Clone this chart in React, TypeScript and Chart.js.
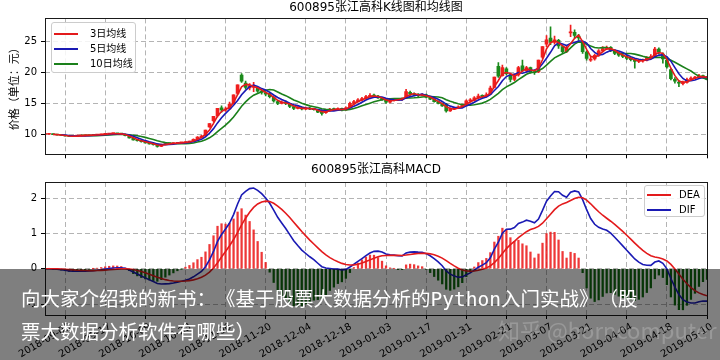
import React, { useEffect, useRef } from "react";
import { Chart, registerables } from "chart.js";

Chart.register(...registerables);

const FONT = '"DejaVu Sans", "Noto Sans CJK SC", sans-serif';

const topTitle = "600895张江高科K线图和均线图";
const bottomTitle = "600895张江高科MACD";
const priceAxisTitle = "价格（单位：元）";
const bannerLine1 = "向大家介绍我的新书：《基于股票大数据分析的Python入门实战》（股";
const bannerLine2 = "票大数据分析软件有哪些）";
const watermark = "知乎 @horncomputer";

// x tick labels, one every 10 trading days
const tickLabels = [
  "2018-09-03", "2018-09-17", "2018-10-09", "2018-10-23", "2018-11-06",
  "2018-11-20", "2018-12-04", "2018-12-18", "2019-01-03", "2019-01-17",
  "2019-01-31", "2019-02-21", "2019-03-07", "2019-03-21", "2019-04-04",
  "2019-04-18", "2019-05-10",
];
const tickStep = 10;

const opens = [
  9.98, 10.00, 10.02, 9.95, 9.88, 9.80, 9.72, 9.66, 9.70, 9.76,
  9.78, 9.80, 9.84, 9.88, 9.92, 9.98, 10.05, 10.10, 10.12, 10.08,
  10.00, 9.75, 9.40, 9.12, 8.95, 8.80, 8.60, 8.45, 8.28, 8.05,
  8.35, 8.52, 8.48, 8.55, 8.62, 8.66, 8.74, 8.88, 9.20, 9.55,
  9.80, 11.20, 12.20, 13.00, 14.30, 13.90, 14.10, 15.00, 16.60, 19.60,
  18.30, 17.50, 17.60, 17.50, 17.00, 16.70, 16.60, 16.00, 15.30, 15.00,
  15.20, 14.90, 14.50, 14.20, 14.30, 14.10, 14.25, 14.10, 14.00, 13.90,
  13.50, 13.90, 14.10, 14.00, 14.20, 13.95, 14.40, 15.00, 15.30, 15.60,
  15.80, 16.10, 16.30, 16.20, 15.90, 15.60, 15.20, 15.50, 15.70, 15.60,
  15.90, 16.80, 16.50, 16.40, 16.30, 16.40, 16.00, 15.70, 15.30, 15.00,
  14.90, 13.80, 14.10, 14.30, 14.40, 14.90, 15.40, 15.50, 15.90, 16.30,
  16.10, 16.50, 17.60, 21.00, 19.50, 20.60, 19.60, 18.90, 19.60, 21.10,
  20.30, 20.80, 20.10, 20.10, 22.50, 24.60, 25.60, 24.90, 25.20, 24.20,
  23.40, 26.40, 26.50, 25.90, 24.80, 23.30, 22.00, 22.20, 22.80, 23.50,
  23.90, 24.10, 23.60, 23.10, 22.80, 22.60, 22.30, 22.10, 21.80, 21.90,
  22.00, 22.40, 22.60, 23.80, 23.00, 22.00, 20.50, 18.90, 18.40, 18.20,
  18.40, 18.90, 19.10, 19.20, 19.50, 19.30,
];
const closes = [
  10.00, 10.02, 9.95, 9.88, 9.80, 9.72, 9.66, 9.70, 9.75, 9.78,
  9.80, 9.84, 9.88, 9.92, 9.98, 10.05, 10.10, 10.12, 10.08, 10.02,
  9.78, 9.40, 9.10, 8.95, 8.80, 8.62, 8.45, 8.30, 8.05, 8.35,
  8.50, 8.48, 8.55, 8.62, 8.66, 8.74, 8.86, 9.20, 9.55, 9.70,
  10.67, 11.74, 12.91, 14.20, 13.95, 14.10, 14.90, 16.39, 18.03, 18.60,
  17.60, 17.90, 17.70, 17.00, 16.80, 16.50, 16.10, 15.40, 15.00, 15.20,
  15.00, 14.50, 14.20, 14.30, 14.10, 14.25, 14.10, 14.00, 13.60, 13.40,
  13.90, 14.10, 14.00, 14.15, 13.90, 14.30, 15.00, 15.30, 15.60, 15.80,
  16.10, 16.30, 16.20, 15.90, 15.60, 15.20, 15.50, 15.70, 15.60, 15.80,
  16.90, 16.50, 16.40, 16.30, 16.40, 16.00, 15.70, 15.30, 15.00, 14.60,
  13.80, 14.10, 14.30, 14.40, 14.80, 15.40, 15.50, 15.90, 16.20, 16.10,
  16.40, 17.50, 19.25, 19.40, 20.80, 19.80, 18.90, 19.60, 20.80, 20.30,
  20.80, 20.10, 20.00, 22.00, 24.20, 25.30, 24.90, 25.30, 24.30, 23.40,
  24.00, 26.60, 26.00, 25.60, 23.40, 22.30, 22.20, 22.80, 23.50, 23.90,
  24.10, 23.60, 23.10, 22.80, 22.60, 22.30, 22.10, 21.80, 21.90, 22.00,
  22.40, 22.60, 23.80, 23.30, 22.20, 20.90, 19.00, 18.60, 18.30, 18.40,
  18.90, 19.10, 19.20, 19.50, 19.30, 18.90,
];
const highs = [
  10.05, 10.06, 10.04, 9.97, 9.90, 9.83, 9.75, 9.74, 9.78, 9.82,
  9.84, 9.88, 9.91, 9.96, 10.02, 10.08, 10.14, 10.16, 10.15, 10.10,
  10.02, 9.78, 9.45, 9.18, 9.00, 8.85, 8.66, 8.50, 8.32, 8.40,
  8.56, 8.58, 8.60, 8.66, 8.70, 8.78, 8.92, 9.28, 9.62, 9.85,
  10.67, 11.74, 12.91, 14.20, 14.60, 14.40, 15.20, 16.39, 18.03, 19.83,
  18.60, 18.20, 18.40, 17.60, 17.20, 16.90, 16.70, 16.10, 15.50, 15.40,
  15.40, 15.00, 14.60, 14.50, 14.40, 14.40, 14.35, 14.20, 14.05, 13.95,
  14.00, 14.20, 14.25, 14.30, 14.25, 14.45, 15.20, 15.50, 15.80, 16.00,
  16.30, 16.60, 16.50, 16.30, 16.00, 15.70, 15.60, 15.80, 15.80, 15.90,
  17.30, 17.00, 16.70, 16.60, 16.60, 16.50, 16.10, 15.80, 15.40, 15.10,
  15.00, 14.30, 14.40, 14.60, 14.90, 15.60, 15.80, 16.10, 16.50, 16.40,
  16.70, 17.80, 19.25, 21.60, 21.20, 20.80, 19.70, 19.80, 21.00, 22.00,
  21.00, 20.90, 20.30, 22.00, 24.20, 26.00, 27.40, 25.90, 25.40, 24.40,
  24.30, 27.70, 26.90, 26.20, 25.00, 23.50, 22.60, 23.00, 23.70, 24.20,
  24.30, 24.20, 23.70, 23.30, 23.00, 22.80, 22.50, 22.20, 22.10, 22.20,
  22.60, 22.90, 24.10, 24.00, 23.20, 22.20, 20.60, 19.20, 18.70, 18.60,
  19.10, 19.30, 19.40, 19.70, 19.60, 19.40,
];
const lows = [
  9.95, 9.97, 9.92, 9.85, 9.76, 9.70, 9.62, 9.63, 9.68, 9.72,
  9.75, 9.77, 9.80, 9.85, 9.90, 9.95, 10.02, 10.06, 10.04, 9.98,
  9.74, 9.36, 9.05, 8.90, 8.74, 8.58, 8.40, 8.22, 7.90, 8.00,
  8.30, 8.42, 8.45, 8.50, 8.58, 8.62, 8.70, 8.85, 9.15, 9.50,
  9.75, 11.10, 12.00, 12.80, 13.60, 13.70, 14.00, 14.90, 16.40, 18.40,
  17.30, 17.20, 16.90, 16.80, 16.50, 16.20, 15.90, 15.20, 14.80, 14.90,
  14.80, 14.30, 14.00, 14.10, 13.95, 14.00, 14.00, 13.90, 13.50, 13.10,
  13.40, 13.80, 13.90, 13.90, 13.80, 13.85, 14.30, 14.90, 15.20, 15.40,
  15.70, 16.00, 16.00, 15.80, 15.50, 15.00, 15.10, 15.40, 15.45, 15.50,
  15.80, 16.30, 16.20, 16.10, 16.20, 15.90, 15.60, 15.20, 14.90, 14.50,
  13.60, 13.70, 14.00, 14.20, 14.30, 14.80, 15.30, 15.40, 15.80, 15.90,
  16.00, 16.40, 17.50, 19.20, 19.40, 19.60, 18.50, 18.70, 19.40, 20.10,
  20.10, 19.90, 19.70, 20.00, 22.30, 24.20, 24.50, 24.60, 23.90, 23.10,
  23.20, 25.80, 25.60, 25.20, 23.10, 22.00, 21.80, 22.00, 22.60, 23.30,
  23.70, 23.40, 22.90, 22.60, 22.40, 22.10, 21.90, 20.70, 21.60, 21.70,
  21.90, 22.30, 22.50, 23.00, 21.50, 20.70, 18.80, 18.30, 17.70, 18.00,
  18.30, 18.80, 19.00, 19.10, 19.20, 18.80,
];

const maPeriods = [3, 5, 10];
const maNames = ["3日均线", "5日均线", "10日均线"];
const maColors = ["#e31a1c", "#1a1ab4", "#1b801b"];
const macdNames = ["DEA", "DIF"];
const macdColors = ["#e31a1c", "#1a1ab4"];
const macdFast = 12;
const macdSlow = 26;
const macdSignal = 9;

const UP = "#f01e1e";
const DOWN = "#1b8a1b";
const HIST_UP = "rgba(235,20,20,0.85)";
const HIST_DOWN = "#0f6b0f";
const GRID = "#b4b4b4";

function movingAverage(values: number[], n: number): (number | null)[] {
  return values.map((_, i) => {
    if (i < n - 1) return null;
    let s = 0;
    for (let k = i - n + 1; k <= i; k++) s += values[k];
    return s / n;
  });
}

function ema(values: number[], n: number): number[] {
  const k = 2 / (n + 1);
  const out: number[] = [];
  values.forEach((v, i) => out.push(i === 0 ? v : out[i - 1] + k * (v - out[i - 1])));
  return out;
}

const framePlugin = {
  id: "frame",
  afterDraw(chart: any) {
    const { ctx, chartArea: a } = chart;
    ctx.save();
    ctx.strokeStyle = "#1a1a1a";
    ctx.lineWidth = 1;
    ctx.strokeRect(Math.round(a.left) + 0.5, Math.round(a.top) + 0.5, Math.round(a.right - a.left), Math.round(a.bottom - a.top));
    ctx.restore();
  },
};

function xScale(showLabels: boolean, height: number) {
  return {
    type: "linear",
    min: 0,
    max: closes.length - 1,
    offset: false,
    afterFit: (s: any) => {
      s.height = height;
      s.paddingLeft = 0;
      s.paddingRight = 0;
    },
    grid: { color: GRID, lineWidth: 1, drawTicks: true, tickLength: 4, tickColor: "#000", tickWidth: 1 },
    border: { display: false, dash: [5, 3] },
    ticks: {
      display: showLabels,
      stepSize: tickStep,
      includeBounds: false,
      autoSkip: false,
      maxRotation: 30,
      minRotation: 30,
      labelOffset: 25,
      padding: 2,
      color: "#000",
      font: { family: FONT, size: 10 },
      callback: (v: number) => tickLabels[Math.round(v / tickStep)] ?? "",
    },
  };
}

function yScale(min: number, max: number, step: number, title?: string) {
  return {
    min,
    max,
    afterFit: (s: any) => {
      s.width = 45;
      s.paddingTop = 0;
      s.paddingBottom = 0;
    },
    grid: { color: GRID, lineWidth: 1, drawTicks: true, tickLength: 4, tickColor: "#000", tickWidth: 1 },
    border: { display: false, dash: [5, 3] },
    ticks: { stepSize: step, includeBounds: false, padding: 4, color: "#000", font: { family: FONT, size: 10 } },
    title: title
      ? { display: true, text: title, color: "#000", font: { family: FONT, size: 11 }, padding: { top: 9, bottom: 0 } }
      : { display: false },
  };
}

function Legend({ names, colors, style, gap }: { names: string[]; colors: string[]; style: any; gap: number }) {
  return (
    <div
      style={{
        position: "absolute",
        boxSizing: "border-box",
        background: "rgba(255,255,255,0.85)",
        border: "1px solid #cccccc",
        borderRadius: 3,
        fontFamily: FONT,
        fontSize: 10,
        color: "#000",
        ...style,
      }}
    >
      {names.map((n, k) => (
        <div key={n} style={{ display: "flex", alignItems: "center", height: 15 }}>
          <div style={{ marginLeft: 2, width: 24, height: 0, borderTop: `2px solid ${colors[k]}` }} />
          <div style={{ marginLeft: gap, whiteSpace: "nowrap", lineHeight: "15px" }}>{n}</div>
        </div>
      ))}
    </div>
  );
}

export default function App() {
  const topRef = useRef<HTMLCanvasElement>(null);
  const botRef = useRef<HTMLCanvasElement>(null);

  useEffect(() => {
    const candleColors = closes.map((c, i) => (c >= opens[i] ? UP : DOWN));
    const top = new Chart(topRef.current as HTMLCanvasElement, {
      type: "bar",
      data: {
        datasets: [
          ...maPeriods.map((p, k) => ({
            type: "line" as const,
            label: maNames[k],
            data: movingAverage(closes, p).map((v, i) => ({ x: i, y: v })),
            borderColor: maColors[k],
            backgroundColor: maColors[k],
            borderWidth: 1.6,
            pointRadius: 0,
            order: 0,
          })),
          {
            type: "bar" as const,
            label: "wick",
            data: highs.map((h, i) => ({ x: i, y: [lows[i], h] })),
            backgroundColor: candleColors,
            barThickness: 1,
            grouped: false,
            order: 2,
          },
          {
            type: "bar" as const,
            label: "body",
            data: opens.map((o, i) => ({ x: i, y: [o, closes[i]] })),
            backgroundColor: candleColors,
            barThickness: 3,
            minBarLength: 1,
            grouped: false,
            order: 1,
          },
        ] as any,
      },
      options: {
        animation: false,
        responsive: false,
        devicePixelRatio: 1,
        events: [],
        layout: { padding: { left: 0, right: 13, top: 0, bottom: 0 } },
        plugins: {
          legend: { display: false },
          tooltip: { enabled: false },
          title: {
            display: true,
            text: topTitle,
            fullSize: false,
            color: "#000",
            font: { family: FONT, size: 12, weight: "normal" },
            padding: { top: 1, bottom: 3 },
          },
        },
        scales: {
          x: xScale(false, 7.7) as any,
          y: yScale(6.76, 28.77, 5, priceAxisTitle) as any,
        },
      },
      plugins: [framePlugin],
    });

    const emaFast = ema(closes, macdFast);
    const emaSlow = ema(closes, macdSlow);
    const dif = emaFast.map((v, i) => v - emaSlow[i]);
    const dea = ema(dif, macdSignal);
    const hist = dif.map((v, i) => 2 * (v - dea[i]));
    const bot = new Chart(botRef.current as HTMLCanvasElement, {
      type: "bar",
      data: {
        datasets: [
          {
            type: "line" as const,
            label: macdNames[0],
            data: dea.map((v, i) => ({ x: i, y: v })),
            borderColor: macdColors[0],
            borderWidth: 1.6,
            pointRadius: 0,
            order: 0,
          },
          {
            type: "line" as const,
            label: macdNames[1],
            data: dif.map((v, i) => ({ x: i, y: v })),
            borderColor: macdColors[1],
            borderWidth: 1.6,
            pointRadius: 0,
            order: 0,
          },
          {
            type: "bar" as const,
            label: "MACD",
            data: hist.map((v, i) => ({ x: i, y: v })),
            backgroundColor: hist.map((v) => (v >= 0 ? HIST_UP : HIST_DOWN)),
            barThickness: 1.6,
            grouped: false,
            order: 1,
          },
        ] as any,
      },
      options: {
        animation: false,
        responsive: false,
        devicePixelRatio: 1,
        events: [],
        layout: { padding: { left: 0, right: 13, top: 0, bottom: 0 } },
        plugins: {
          legend: { display: false },
          tooltip: { enabled: false },
          title: {
            display: true,
            text: bottomTitle,
            fullSize: false,
            color: "#000",
            font: { family: FONT, size: 12, weight: "normal" },
            padding: { top: 2.8, bottom: 4.8 },
          },
        },
        scales: {
          x: xScale(true, 50) as any,
          y: yScale(-1.31, 2.46, 1) as any,
        },
      },
      plugins: [framePlugin],
    });

    return () => {
      top.destroy();
      bot.destroy();
    };
  }, []);

  return (
    <div style={{ position: "fixed", left: 0, top: 0, width: 720, height: 360, overflow: "hidden", background: "#fff" }}>
      <canvas ref={topRef} width={720} height={162} style={{ position: "absolute", left: 0, top: 0, width: 720, height: 162 }} />
      <canvas ref={botRef} width={720} height={205} style={{ position: "absolute", left: 0, top: 160, width: 720, height: 205 }} />
      <Legend names={maNames} colors={maColors} gap={12} style={{ left: 51, top: 22, width: 85, height: 51, paddingTop: 3 }} />
      <Legend names={macdNames} colors={macdColors} gap={8} style={{ left: 644, top: 185, width: 61, height: 32, paddingTop: 1 }} />
      <div
        style={{
          position: "absolute",
          left: 0,
          top: 269,
          width: 720,
          height: 91,
          boxSizing: "border-box",
          background: "rgba(0,0,0,0.5)",
          color: "#fff",
          fontFamily: '"DejaVu Sans Mono", "Noto Sans CJK SC", monospace',
          fontSize: 19.5,
          lineHeight: "33px",
          paddingLeft: 21,
          paddingTop: 14,
          whiteSpace: "nowrap",
          textSpacingTrim: "space-all",
        } as any}
      >
        {bannerLine1}
        <br />
        {bannerLine2}
      </div>
      <div
        style={{
          position: "absolute",
          left: 498,
          top: 313,
          fontFamily: '"Noto Sans CJK SC", sans-serif',
          fontSize: 22,
          color: "rgba(255,255,255,0.2)",
          whiteSpace: "nowrap",
        }}
      >
        {watermark}
      </div>
    </div>
  );
}
